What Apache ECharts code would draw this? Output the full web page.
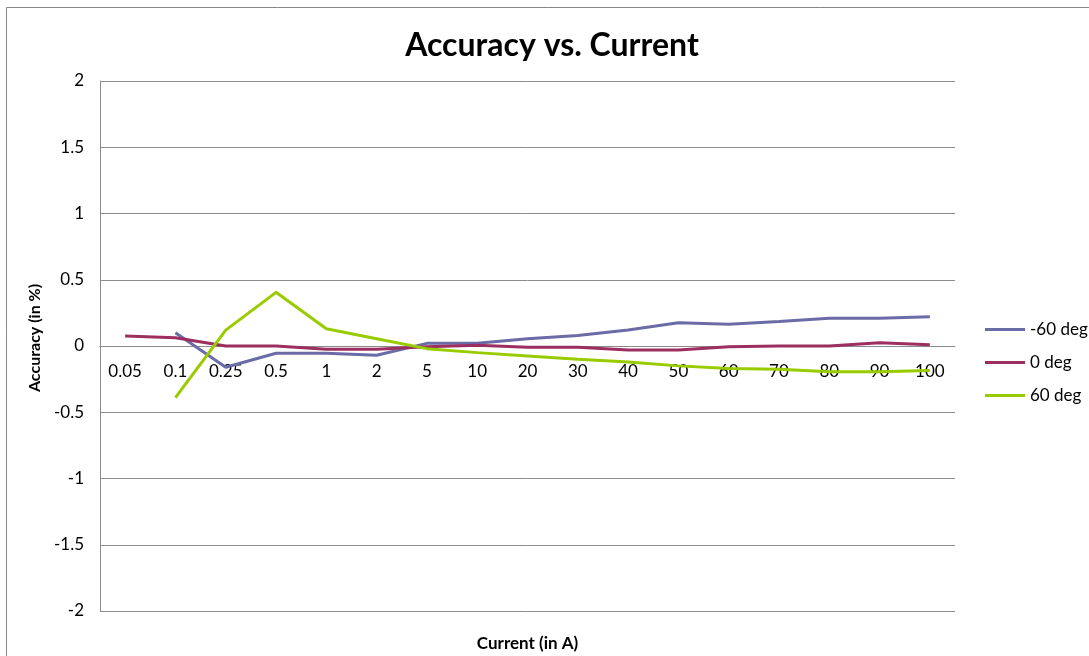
<!DOCTYPE html>
<html>
  <head>
    <meta charset="utf-8" />
    <title>Accuracy vs. Current</title>
    <script src="https://cdn.jsdelivr.net/npm/echarts@6/dist/echarts.min.js"></script>
    <style>
      body {
        margin: 0;
        padding: 0;
        background: #fff;
      }
      #main {
        width: 1089px;
        height: 656px;
      }
    </style>
  </head>
  <body>
    <div id="main"></div>
    <script type="text/javascript">
      // 横轴分类 (A)
      var currents = ["0.05", "0.1", "0.25", "0.5", "1", "2", "5", "10", "20", "30", "40", "50", "60", "70", "80", "90", "100"];
      var yTicks = { min: -2, max: 2, step: 0.5 };

      // 读图估计的数值
      var minus60 = ["-", 0.1, -0.16, -0.055, -0.055, -0.07, 0.02, 0.02, 0.055, 0.08, 0.12, 0.175, 0.165, 0.185, 0.21, 0.21, 0.22];
      var zero = [0.075, 0.063, 0, 0, -0.025, -0.025, -0.005, 0.005, -0.01, -0.01, -0.03, -0.03, -0.005, 0, 0, 0.025, 0.01];
      var plus60 = ["-", -0.39, 0.12, 0.405, 0.13, 0.055, -0.02, -0.05, -0.075, -0.1, -0.12, -0.15, -0.17, -0.175, -0.195, -0.195, -0.185];

      var seriesNames = ["-60 deg", "0 deg", "60 deg"];
      var colors = ["#6b6ba6", "#9c2f60", "#99cc00"];

      var myChart = echarts.init(document.getElementById("main"));
      var font = "Lato, 'Open Sans', sans-serif";
      var gray = "#8c8c8c";

      function mkLine(name, data, color) {
        return {
          name: name,
          type: "line",
          data: data,
          showSymbol: false,
          symbol: "none",
          lineStyle: { color: color, width: 3 },
          itemStyle: { color: color },
        };
      }

      var option = {
        animation: false,
        textStyle: { fontFamily: font },
        title: {
          text: "Accuracy vs. Current",
          left: 547,
          textAlign: "center",
          top: 25,
          textStyle: { fontSize: 32, fontWeight: "bold", color: "#000", fontFamily: font },
        },
        graphic: [
          {
            type: "rect",
            shape: { x: 6.5, y: 7.5, width: 1200, height: 800 },
            style: { fill: "none", stroke: "#878787", lineWidth: 1 },
            silent: true,
          },
        ],
        legend: {
          orient: "vertical",
          left: 980,
          top: 316,
          itemWidth: 40,
          itemHeight: 3,
          itemGap: 16,
          icon: "rect",
          textStyle: { fontSize: 17, color: "#000", fontFamily: font },
          data: seriesNames,
        },
        grid: { left: 100, right: 134, top: 81, bottom: 45, outerBoundsMode: "none" },
        xAxis: {
          type: "category",
          data: currents,
          boundaryGap: true,
          // 轴线放在 0 处 (onZero 在这里不生效, 用 offset)
          offset: -265,
          name: "Current (in A)",
          nameLocation: "middle",
          nameGap: 289,
          nameTextStyle: { fontSize: 17, fontWeight: "bold", color: "#000", fontFamily: font },
          axisLine: { onZero: false, lineStyle: { color: gray, width: 1 } },
          axisTick: { show: false },
          axisLabel: { margin: 17, fontSize: 17, color: "#000", interval: 0 },
        },
        yAxis: {
          type: "value",
          min: yTicks.min,
          max: yTicks.max,
          interval: yTicks.step,
          name: "Accuracy (in %)",
          nameLocation: "middle",
          nameGap: 57,
          nameRotate: 90,
          nameTextStyle: { fontSize: 16, fontWeight: "bold", color: "#000", fontFamily: font, padding: [0, 0, 0, 16] },
          axisLine: { show: true, lineStyle: { color: gray, width: 1 } },
          axisTick: { show: false },
          axisLabel: { margin: 16, fontSize: 17, color: "#000" },
          splitLine: { lineStyle: { color: gray, width: 1 } },
        },
        series: [
          mkLine(seriesNames[0], minus60, colors[0]),
          mkLine(seriesNames[1], zero, colors[1]),
          mkLine(seriesNames[2], plus60, colors[2]),
        ],
      };

      myChart.setOption(option);
    </script>
  </body>
</html>
